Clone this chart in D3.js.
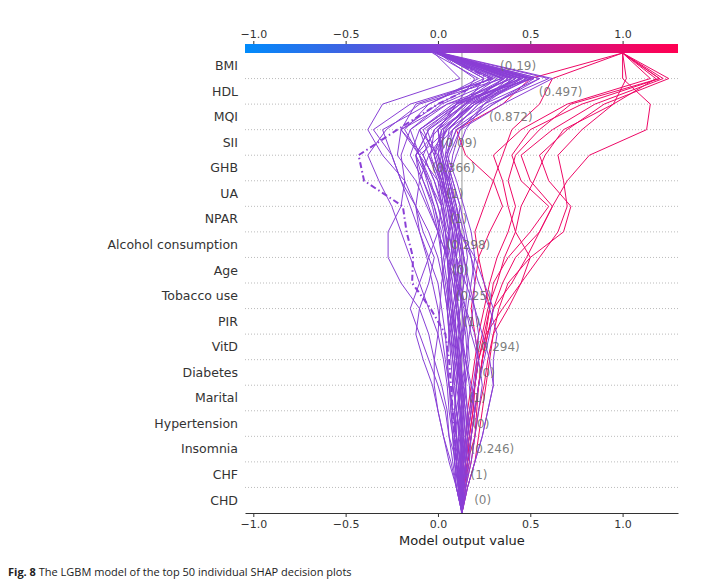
<!DOCTYPE html>
<html lang="en">
<head>
<meta charset="UTF-8">
<title>SHAP decision plot</title>
<script src="https://cdn.jsdelivr.net/npm/d3@7"></script>
<style>
  body { margin: 0; background: #fff; }
  text { font-family: "DejaVu Sans", sans-serif; }
  .axis path, .axis line { stroke: #333; }
  .axis text { font-size: 11px; fill: #333; }
</style>
</head>
<body>
<script>
// features, top (most important) to bottom
const features = ["BMI", "HDL", "MQI", "SII", "GHB", "UA", "NPAR", "Alcohol consumption", "Age",
  "Tobacco use", "PIR", "VitD", "Diabetes", "Marital", "Hypertension", "Insomnia", "CHF", "CHD"];
const featureValues = ["(0.19)", "(0.497)", "(0.872)", "(0.09)", "(0.366)", "(1)", "(1)", "(0.298)", "(0)",
  "(0.25)", "(1)", "(0.294)", "(0)", "(1)", "(0)", "(0.246)", "(1)", "(0)"];
const labelAt = [0.32, 0.53, 0.26, 0.0, -0.05, 0.03, 0.05, 0.03, 0.06, 0.08, 0.12, 0.19, 0.2, 0.15, 0.17, 0.16, 0.16, 0.18];
const baseValue = 0.13;
const xTicks = [-1.0, -0.5, 0.0, 0.5, 1.0];

// cumulative model output after each feature, from CHD (bottom) up to HDL
const paths = [
  [.15,.18,.2,.22,.25,.27,.3,.33,.38,.5,.68,.72,.6,.55,.7,.9,1.25],
  [.14,.16,.2,.21,.22,.24,.27,.3,.35,.42,.55,.62,.5,.45,.62,.85,1.22],
  [.13,.15,.17,.19,.2,.22,.25,.28,.3,.38,.5,.6,.45,.4,.5,.78,1.2],
  [.12,.14,.15,.17,.2,.22,.26,.35,.45,.55,.65,.7,.68,.65,.78,.95,1.18],
  [.16,.2,.22,.24,.26,.28,.3,.38,.45,.5,.42,.38,.35,.3,.45,.7,1.15],
  [.14,.17,.16,.18,.2,.21,.24,.27,.32,.36,.42,.45,.52,.58,.68,.95,1.02],
  [.12,.13,.15,.16,.18,.2,.22,.25,.28,.32,.38,.42,.38,.42,.55,.72,1.2],
  [.15,.16,.18,.2,.22,.24,.27,.3,.4,.48,.55,.62,.7,.82,1.13,1.15,1.0],
  [.14,.15,.17,.19,.2,.22,.2,.18,.2,.22,.28,.35,.3,.15,.1,.35,.5],
  [.13,.16,.18,.2,.22,.24,.26,.28,.25,.22,.2,.25,.3,.35,.4,.55,.62],
  [.1,.08,.06,.05,.02,-.02,-.05,-.1,-.2,-.27,-.27,-.2,-.18,-.3,-.38,-.3,.12],
  [.12,.1,.08,.06,.05,.03,0,-.05,-.1,-.15,-.2,-.25,-.32,-.38,-.28,-.1,.35],
  [.11,.09,.1,.08,.06,.05,.04,.02,.0,-.05,-.1,-.15,-.2,-.25,-.35,-.15,.3],
  [.12,.1,.09,.08,.07,.06,.04,-.04,-.14,-.135,-.17,-.19,-.4,-.43,-.22,.0,.28],
  [.13,.12,.14,.12,.1,.08,.06,.05,.03,0,-.05,-.12,-.18,-.2,-.15,.05,.4],
  [.14,.15,.13,.12,.11,.1,.09,.08,.06,.05,.02,-.02,-.08,-.15,-.1,.1,.45],
  [.12,.13,.12,.1,.08,.1,.12,.1,.08,.05,.0,-.05,-.1,-.12,.0,.2,.5],
  [.13,.11,.1,.09,.1,.11,.1,.08,.07,.05,.06,.03,-.02,-.08,-.2,.05,.52],
  [.15,.17,.18,.2,.18,.15,.12,.1,.08,.06,.04,0,-.05,-.1,.05,.25,.55],
  [.1,.06,.03,.0,-.03,-.08,-.12,-.1,-.05,-.02,-.08,-.12,-.2,-.25,-.3,-.05,.22],
  [.16,.2,.24,.27,.3,.28,.24,.2,.15,.1,.05,.02,-.05,-.12,-.05,.15,.42],
  [.12,.14,.16,.18,.2,.22,.2,.15,.1,.07,.04,.02,0,-.05,.08,.22,.38],
  [.13,.12,.1,.11,.12,.13,.12,.11,.1,.09,.1,.08,.05,.02,.0,.1,.3],
  [.11,.1,.12,.13,.12,.1,.08,.06,.05,.08,.1,.12,.08,.04,.06,.18,.35],
  [.14,.16,.18,.2,.22,.25,.28,.3,.25,.2,.12,.08,.02,-.05,-.1,.1,.5],
  [.12,.11,.09,.07,.06,.05,.06,.08,.1,.12,.1,.06,.02,-.02,-.08,.12,.45],
  [.13,.14,.13,.14,.15,.14,.13,.15,.16,.14,.12,.1,.06,.0,.02,.2,.48],
  [.1,.09,.08,.1,.12,.11,.1,.09,.12,.14,.12,.08,.05,.1,.15,.25,.4],
  [.15,.18,.2,.22,.24,.22,.18,.15,.12,.1,.08,.05,.0,-.1,-.2,-.12,.3],
  [.12,.1,.06,.04,.0,-.05,-.1,-.15,-.1,-.05,0,.02,-.02,-.08,-.02,.15,.25],
  [.13,.12,.11,.12,.14,.16,.15,.13,.11,.08,.06,.04,.02,.05,.1,.3,.55],
  [.14,.15,.14,.13,.12,.11,.1,.12,.14,.12,.1,.06,.03,.01,.08,.28,.6],
  [.11,.12,.13,.12,.11,.09,.07,.05,.03,.02,.0,-.03,-.08,-.12,-.05,.12,.32],
  [.12,.13,.14,.15,.13,.12,.1,.07,.05,.03,.06,.08,.05,.0,-.1,.08,.4],
  [.16,.2,.24,.27,.3,.3,.32,.28,.22,.18,.12,.07,.04,.06,.12,.35,.62],
  [.14,.12,.1,.08,.06,.04,.02,.0,-.03,-.06,-.1,-.12,-.1,-.05,.05,.2,.42],
  [.12,.14,.15,.16,.15,.14,.12,.1,.09,.1,.12,.1,.07,.03,.0,.15,.36],
  [.13,.15,.17,.16,.14,.12,.11,.12,.14,.16,.14,.1,.06,.02,.03,.18,.44],
  [.11,.09,.08,.07,.08,.09,.08,.06,.04,.02,.01,-.02,-.06,-.1,-.15,.02,.34],
  [.15,.16,.15,.14,.13,.12,.14,.16,.18,.2,.18,.14,.1,.05,.08,.22,.5],
  [.1,.07,.03,.0,-.02,-.02,.0,.01,.02,.04,.03,.0,-.04,-.1,-.18,-.05,.25],
  [.13,.14,.16,.18,.17,.15,.13,.11,.09,.08,.07,.05,.03,.0,.04,.16,.46],
  [.14,.13,.12,.1,.09,.08,.07,.09,.11,.1,.08,.05,.01,-.04,-.02,.14,.38],
  [.12,.1,.09,.11,.13,.15,.17,.19,.2,.18,.15,.12,.08,.04,.1,.3,.52],
  [.13,.12,.13,.14,.12,.1,.09,.1,.12,.13,.11,.09,.06,.08,.12,.25,.45],
  [.11,.1,.11,.13,.15,.17,.16,.14,.1,.05,.0,-.06,-.12,-.22,-.2,.0,.28],
  [.14,.15,.16,.15,.13,.11,.09,.07,.06,.05,.04,.03,.01,-.02,.05,.2,.42],
  [.12,.11,.1,.09,.1,.12,.14,.13,.12,.1,.09,.07,.04,.02,.0,.1,.2],
  [.13,.14,.12,.1,.08,.07,.06,.05,.06,.07,.08,.06,.03,-.01,-.06,.1,.36],
  [.12,.13,.15,.17,.19,.21,.22,.2,.17,.14,.1,.06,.02,-.02,.02,.18,.48]
];
// final model output (after BMI)
const finals = [1,1,1,1,1,1,1,1,1,1,
  -.02,0,0,0,.01,0,0,.02,0,-.03,0,.01,0,0,0,.02,0,0,-.01,0,
  0,.01,0,0,.02,0,0,0,-.02,0,0,0,.01,0,0,-.01,0,0,0,.01];
const highlighted = 13;

const W = 725, H = 585;
const pLeft = 245, pRight = 678, pTop = 53, pBottom = 513;

const svg = d3.select("body").append("svg").attr("width", W).attr("height", H);

const x = d3.scaleLinear().domain([-1.045, 1.3]).range([pLeft, pRight]);
const y = d3.scaleLinear().domain([0, features.length]).range([pBottom, pTop]);
const color = d3.scaleLinear()
  .domain([-1.045, -0.5, 0, 0.5, 1.0, 1.3])
  .range(["#008bfb", "#3f62e2", "#8a3fd6", "#b41e9c", "#ee0866", "#ff0052"])
  .interpolate(d3.interpolateRgb);

// colorbar
const grad = svg.append("defs").append("linearGradient").attr("id", "cb");
d3.range(0, 1.0001, 0.05).forEach(t => {
  grad.append("stop").attr("offset", t).attr("stop-color", color(x.invert(pLeft + t * (pRight - pLeft))));
});
svg.append("rect").attr("x", pLeft).attr("y", 44).attr("width", pRight - pLeft).attr("height", 9)
  .attr("fill", "url(#cb)");
svg.append("g").attr("class", "axis").attr("transform", "translate(0,44)")
  .call(d3.axisTop(x).tickValues(xTicks).tickSize(3))
  .call(g => g.select(".domain").remove())
  .call(g => g.selectAll("text").text(d => d3.format(".1f")(d).replace("-", "\u2212")));

// dotted gridlines at row boundaries
svg.append("g").selectAll("line").data(d3.range(1, features.length))
  .join("line")
  .attr("x1", pLeft).attr("x2", pRight)
  .attr("y1", d => y(d)).attr("y2", d => y(d))
  .attr("stroke", "#aaa").attr("stroke-width", 0.8).attr("stroke-dasharray", "1,2");

// base value line
svg.append("line").attr("x1", x(baseValue)).attr("x2", x(baseValue))
  .attr("y1", pTop).attr("y2", pBottom).attr("stroke", "#999").attr("stroke-width", 1);

// feature names
svg.append("g").selectAll("text").data(features).join("text")
  .attr("x", pLeft - 7)
  .attr("y", (d, i) => y(features.length - i - 0.5))
  .attr("dy", "0.35em").attr("text-anchor", "end")
  .attr("font-size", 12.5).attr("fill", "#333").text(d => d);

// decision lines
const line = d3.line().x(d => x(d[0])).y(d => y(d[1]));
const lineData = paths.map((p, i) => {
  const pts = [baseValue, ...p, finals[i]];
  return { final: finals[i], idx: i, pts: pts.map((v, k) => [v, k]) };
});
svg.append("g").selectAll("path").data(lineData.filter(d => d.idx !== highlighted))
  .join("path")
  .attr("d", d => line(d.pts))
  .attr("fill", "none").attr("stroke", d => color(d.final)).attr("stroke-width", 1);
const hl = lineData[highlighted];
svg.append("path").attr("d", line(hl.pts)).attr("fill", "none")
  .attr("stroke", color(hl.final)).attr("stroke-width", 2).attr("stroke-dasharray", "6,3,1.5,3");

// feature values for the highlighted observation
svg.append("g").selectAll("text").data(featureValues).join("text")
  .attr("x", (d, i) => x(labelAt[i]) + 3)
  .attr("y", (d, i) => y(features.length - i - 0.5))
  .attr("dy", "0.35em")
  .attr("font-size", 12).attr("fill", "#666").attr("fill-opacity", 0.85)
  .text(d => d);

// bottom axis
svg.append("g").attr("class", "axis").attr("transform", `translate(0,${pBottom})`)
  .call(d3.axisBottom(x).tickValues(xTicks).tickSize(4).tickSizeOuter(0))
  .call(g => g.selectAll("text").text(d => d3.format(".1f")(d).replace("-", "\u2212")));

svg.append("text").attr("x", x(baseValue)).attr("y", 545).attr("text-anchor", "middle")
  .attr("font-size", 13).attr("fill", "#222").text("Model output value");

// caption
const cap = svg.append("text").attr("x", 8).attr("y", 576).attr("font-size", 11)
  .style("font-family", "'Open Sans', sans-serif").attr("fill", "#222");
cap.append("tspan").attr("font-weight", "bold").text("Fig. 8");
cap.append("tspan").text(" The LGBM model of the top 50 individual SHAP decision plots");
</script>
</body>
</html>
